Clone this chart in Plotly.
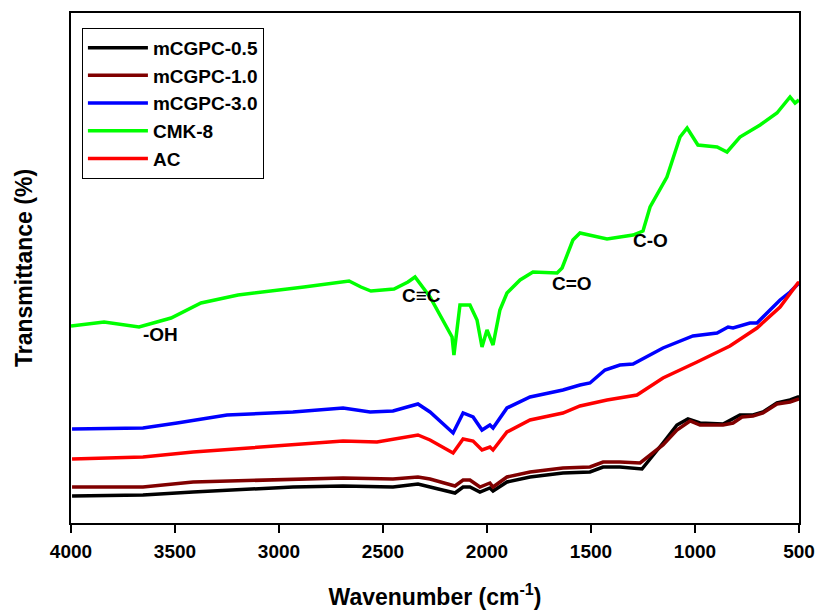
import plotly.graph_objects as go

# ---- data (wavenumber in cm-1, transmittance in arbitrary offset units) ----
wn_05 = [3995, 3654, 3413, 2933, 2692, 2452, 2332, 2274, 2154, 2115, 2082, 2034, 1986, 1971,
         1904, 1793, 1635, 1505, 1442, 1361, 1255, 1154, 1087, 1034, 976, 865, 784, 721, 673,
         606, 543, 505, 500]
t_05 = [27, 28, 31, 36, 37, 36, 39, 36, 30, 36, 36, 31, 35, 32,
        41, 46, 50, 51, 56, 56, 54, 80, 98, 104, 100, 99, 108, 108, 111,
        120, 123, 126, 126]

wn_10 = [3995, 3654, 3413, 2933, 2692, 2452, 2332, 2274, 2154, 2115, 2082, 2034, 1986, 1971,
         1904, 1793, 1635, 1505, 1442, 1361, 1264, 1154, 1087, 1024, 976, 865, 817, 774, 721,
         673, 606, 543, 505, 500]
t_10 = [36, 36, 41, 44, 45, 44, 46, 44, 37, 43, 43, 36, 40, 36,
        46, 51, 55, 56, 61, 61, 60, 78, 93, 102, 98, 98, 100, 106, 107,
        110, 119, 121, 124, 124]

wn_30 = [3995, 3654, 3490, 3250, 2933, 2692, 2562, 2452, 2332, 2274, 2163, 2115, 2067, 2024,
         1986, 1971, 1904, 1793, 1635, 1553, 1505, 1433, 1361, 1298, 1154, 1010, 894, 841,
         817, 736, 702, 639, 591, 543, 505, 500]
t_30 = [94, 95, 100, 108, 111, 115, 111, 112, 119, 111, 90, 110, 106, 93,
        98, 95, 115, 126, 133, 138, 140, 153, 158, 159, 175, 187, 190, 196,
        195, 200, 200, 213, 223, 231, 240, 240]

wn_cmk = [4000, 3841, 3673, 3519, 3375, 3197, 2880, 2663, 2606, 2558, 2447, 2380, 2346, 2274,
          2168, 2159, 2130, 2082, 2048, 2024, 2000, 1971, 1938, 1904, 1841, 1779, 1663, 1639,
          1587, 1553, 1423, 1298, 1250, 1216, 1135, 1072, 1038, 986, 894, 846, 784, 687, 606,
          543, 519, 500]
t_cmk = [197, 201, 196, 205, 220, 228, 236, 242, 236, 232, 234, 241, 246, 226,
         186, 168, 218, 218, 203, 176, 193, 178, 213, 230, 243, 251, 250, 255,
         283, 290, 284, 288, 292, 316, 346, 386, 395, 378, 376, 371, 386, 398, 410,
         426, 420, 423]

wn_ac = [3995, 3654, 3413, 3091, 2692, 2529, 2332, 2274, 2163, 2115, 2067, 2024, 1986, 1971,
         1904, 1793, 1635, 1553, 1423, 1279, 1154, 990, 832, 702, 591, 505, 500]
t_ac = [64, 66, 71, 76, 82, 81, 88, 83, 70, 84, 82, 73, 76, 73,
        91, 103, 110, 117, 123, 128, 145, 161, 177, 195, 216, 240, 240]

names = ["mCGPC-0.5", "mCGPC-1.0", "mCGPC-3.0", "CMK-8", "AC"]
colors = ["#000000", "#800000", "#0000ff", "#00ff00", "#ff0000"]
series = [(wn_05, t_05), (wn_10, t_10), (wn_30, t_30), (wn_cmk, t_cmk), (wn_ac, t_ac)]

bands = ["-OH", "C≡C", "C=O", "C-O"]
band_x = [3572, 2317, 1591, 1216]
band_y = [189, 228, 240, 283]

x_ticks = [4000, 3500, 3000, 2500, 2000, 1500, 1000, 500]

FONT = "Liberation Sans, Arial, sans-serif"

fig = go.Figure()
for (x, y), n, c in zip(series, names, colors):
    fig.add_trace(go.Scatter(x=x, y=y, mode="lines", name=n,
                             line=dict(color=c, width=3.5)))

for t, bx, by in zip(bands, band_x, band_y):
    fig.add_annotation(x=bx, y=by, text=t, showarrow=False,
                       font=dict(family=FONT, size=19, color="black", weight="bold"))

fig.update_layout(
    width=816, height=612,
    margin=dict(l=71, r=17, t=13, b=89, autoexpand=False),
    paper_bgcolor="white", plot_bgcolor="white",
    font=dict(family=FONT, color="black"),
    showlegend=True,
    legend=dict(x=0.015, y=0.971, xanchor="left", yanchor="top",
                bordercolor="black", borderwidth=1, bgcolor="white",
                font=dict(family=FONT, size=19, color="black", weight="bold"),
                itemwidth=60, entrywidth=137, entrywidthmode="pixels"),
    xaxis=dict(range=[4000, 500], tickvals=x_ticks, ticktext=[str(v) for v in x_ticks],
               automargin=False,
               showline=True, mirror=True, linecolor="black", linewidth=2,
               ticks="outside", ticklen=8, tickwidth=2, tickcolor="black",
               showgrid=False, zeroline=False, ticklabelstandoff=2,
               tickfont=dict(family=FONT, size=19, color="black", weight="bold"),
               title=dict(text="Wavenumber (cm<sup>-1</sup>)", standoff=28,
                          font=dict(family=FONT, size=23, color="black", weight="bold"))),
    yaxis=dict(range=[0, 510], showline=True, mirror=True, linecolor="black", linewidth=2,
               automargin=False,
               showticklabels=False, ticks="", showgrid=False, zeroline=False,
               title=dict(text="Transmittance (%)", standoff=30,
                          font=dict(family=FONT, size=23, color="black", weight="bold"))),
)

fig.write_html("out.html")
